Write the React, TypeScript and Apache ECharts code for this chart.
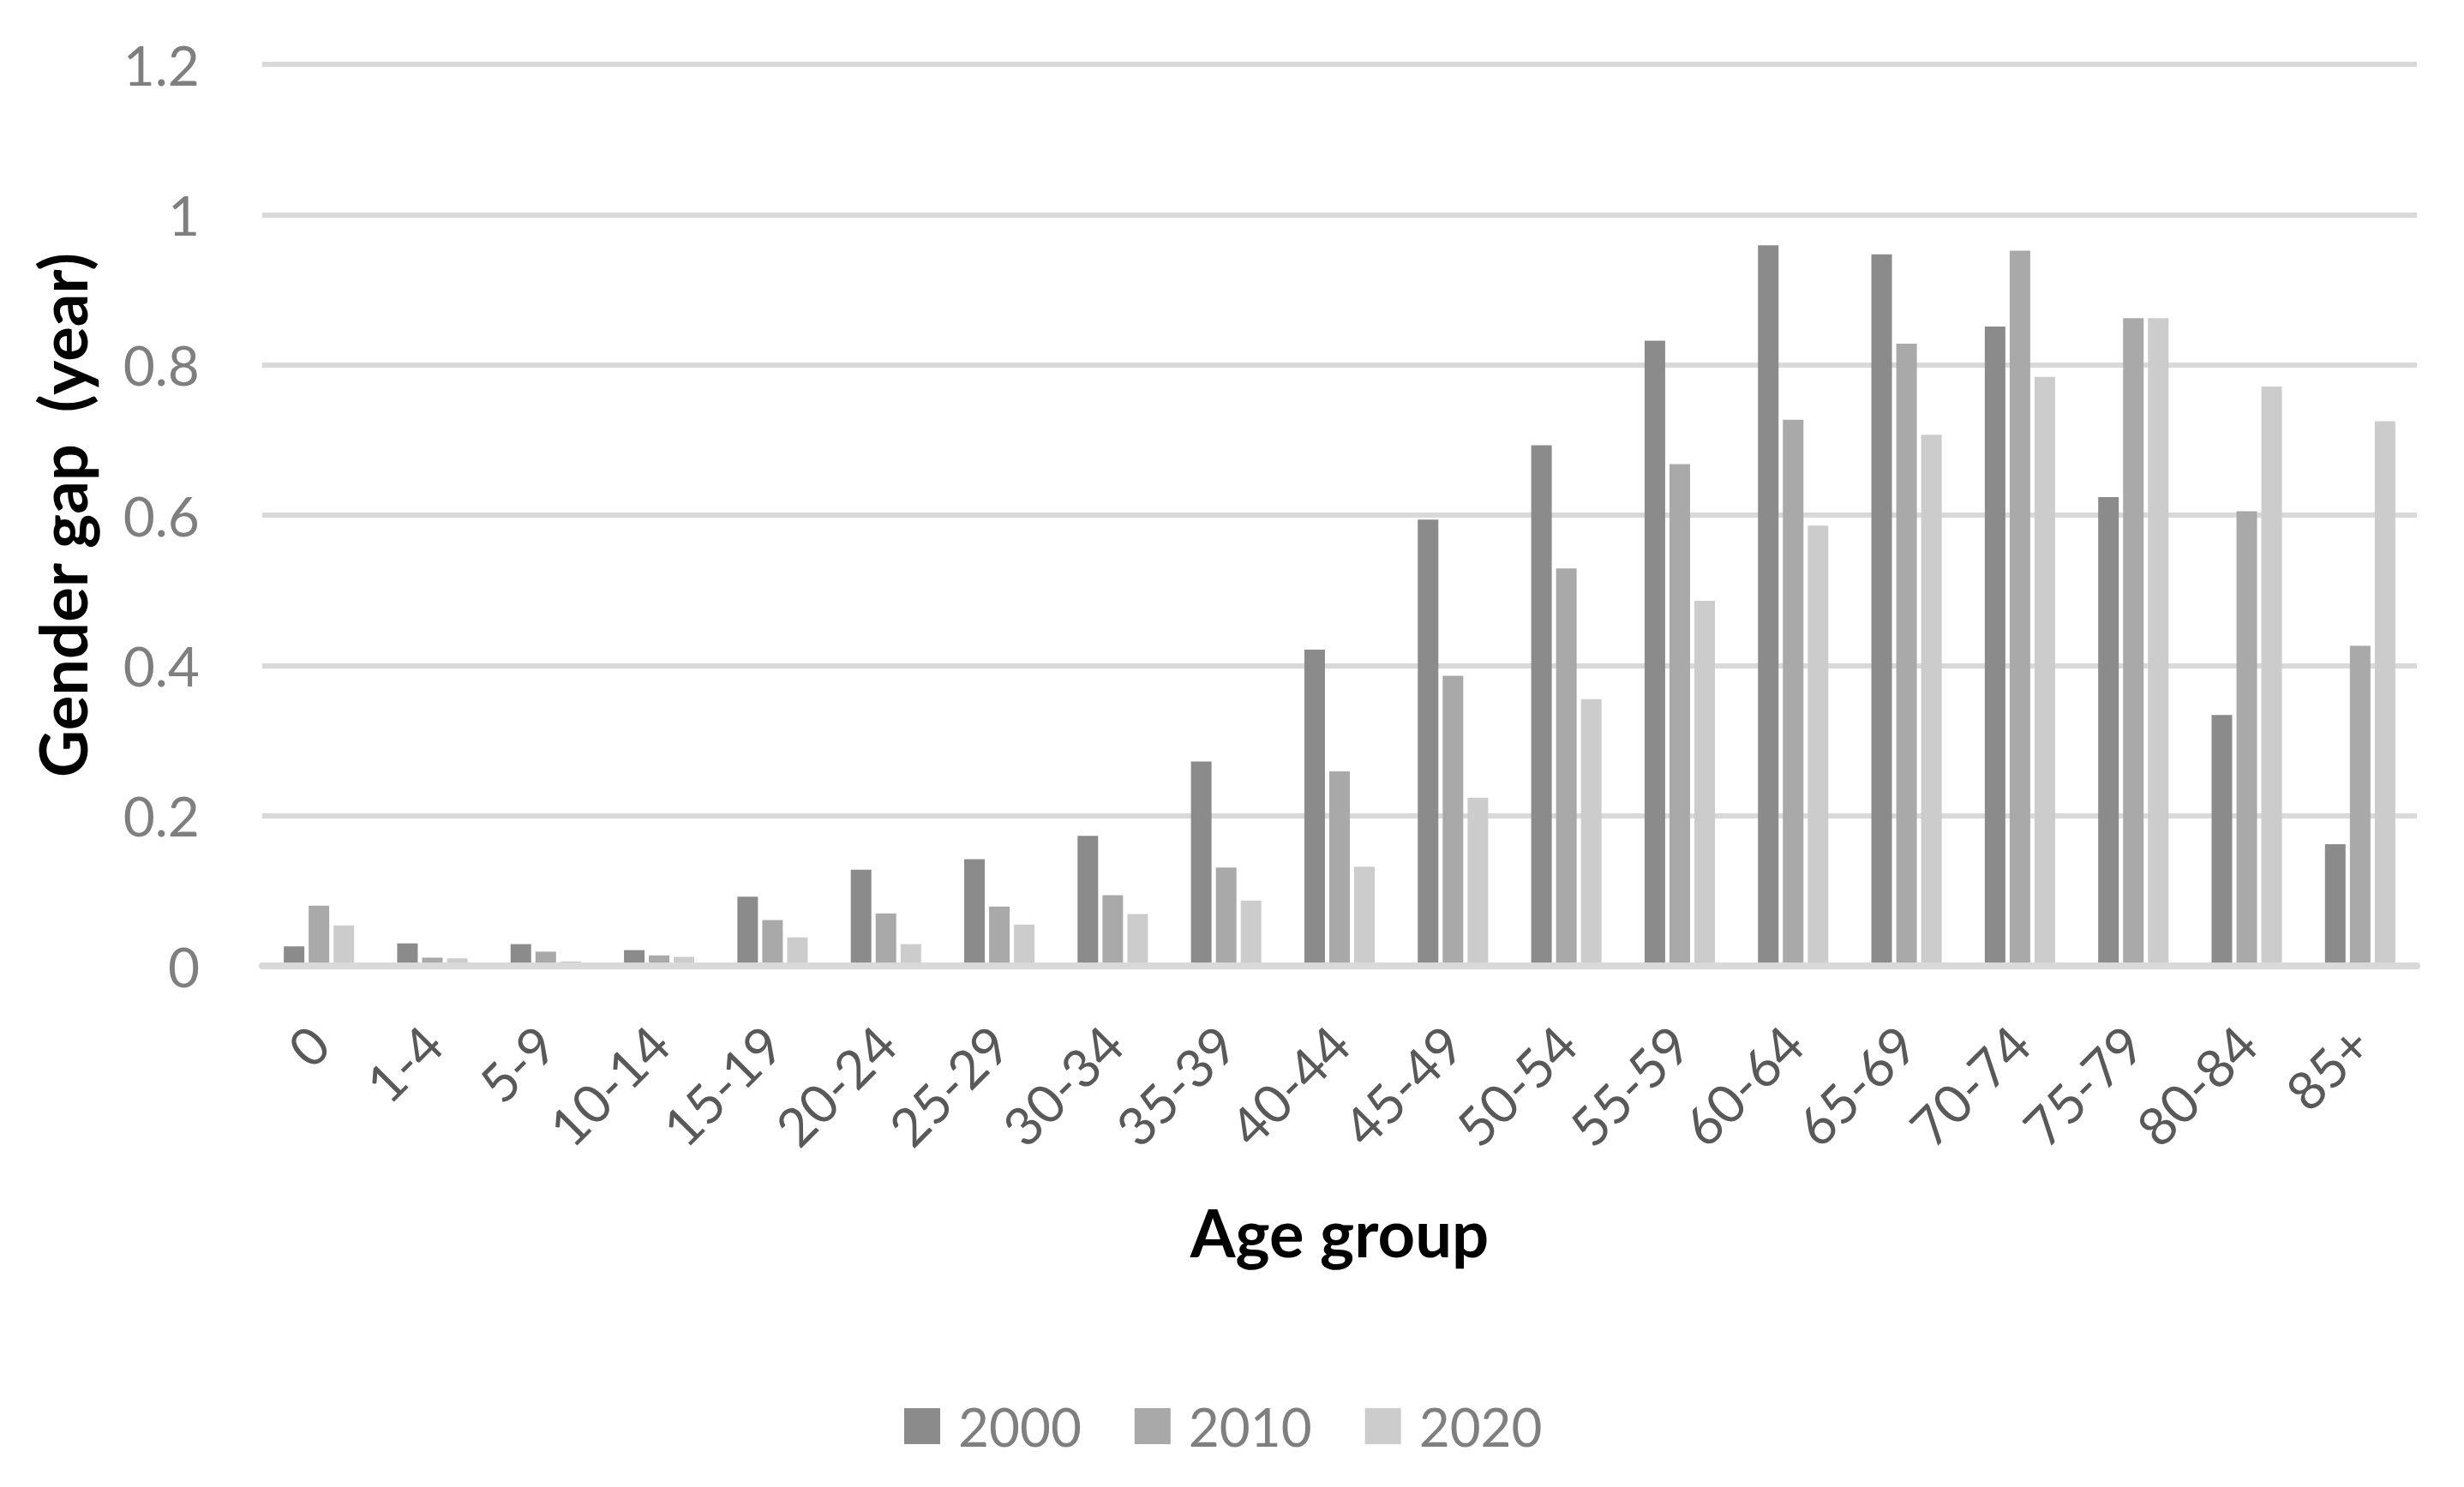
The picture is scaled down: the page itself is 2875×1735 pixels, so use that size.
import * as echarts from 'echarts';
import { useEffect, useRef } from 'react';

const categories = ['0', '1-4', '5-9', '10-14', '15-19', '20-24', '25-29', '30-34', '35-39', '40-44', '45-49', '50-54', '55-59', '60-64', '65-69', '70-74', '75-79', '80-84', '85+'];
const years = ['2000', '2010', '2020'];
const gap2000 = [0.026, 0.03, 0.029, 0.021, 0.092, 0.128, 0.142, 0.173, 0.272, 0.421, 0.594, 0.693, 0.832, 0.959, 0.947, 0.851, 0.624, 0.334, 0.162];
const gap2010 = [0.08, 0.011, 0.019, 0.014, 0.061, 0.07, 0.079, 0.094, 0.131, 0.259, 0.386, 0.529, 0.668, 0.727, 0.828, 0.952, 0.862, 0.605, 0.426];
const gap2020 = [0.054, 0.01, 0.006, 0.012, 0.038, 0.029, 0.055, 0.069, 0.087, 0.132, 0.224, 0.355, 0.486, 0.586, 0.707, 0.784, 0.862, 0.771, 0.725];
const colors = ['#8b8b8b', '#a9a9a9', '#cccccc'];

const font = 'Lato';

export default function App() {
  const chartRef = useRef<HTMLDivElement>(null);

  useEffect(() => {
    if (!chartRef.current) return;
    const chart = echarts.init(chartRef.current, null, { renderer: 'svg' });
    const values = [gap2000, gap2010, gap2020];
    chart.setOption({
      animation: false,
      textStyle: { fontFamily: font },
      grid: { left: 306, right: 55, top: 75, bottom: 608 },
      legend: {
        data: years,
        left: 1050,
        top: 1628,
        icon: 'rect',
        itemWidth: 42,
        itemHeight: 42,
        itemGap: 62,
        selectedMode: false,
        textStyle: { fontFamily: font, fontSize: 62, color: '#7f7f7f', padding: [0, 0, 0, 16] },
      },
      xAxis: {
        type: 'category',
        data: categories,
        z: 5,
        name: 'Age group',
        nameLocation: 'middle',
        nameGap: 272,
        nameTextStyle: { fontFamily: font, fontSize: 76, fontWeight: 'bold', color: '#000' },
        axisLine: { lineStyle: { color: '#d9d9d9', width: 8 } },
        axisTick: { show: false },
        axisLabel: {
          rotate: 45,
          margin: 80,
          fontFamily: font,
          fontSize: 62,
          color: '#595959',
        },
      },
      yAxis: {
        type: 'value',
        min: 0,
        max: 1.2,
        interval: 0.2,
        name: 'Gender gap  (year)',
        nameLocation: 'middle',
        nameGap: 196,
        nameTextStyle: { fontFamily: font, fontSize: 76, fontWeight: 'bold', color: '#000' },
        axisLine: { show: false },
        axisTick: { show: false },
        splitLine: { lineStyle: { color: '#d9d9d9', width: 6 } },
        axisLabel: { margin: 73, fontFamily: font, fontSize: 64, color: '#7f7f7f' },
      },
      series: years.map((y, i) => ({
        name: y,
        type: 'bar',
        data: values[i],
        barWidth: 24,
        barGap: '21%',
        itemStyle: { color: colors[i] },
      })),
    });
    return () => {
      chart.dispose();
    };
  }, []);

  return (
    <div
      ref={chartRef}
      style={{ position: 'fixed', left: 0, top: 0, width: 2875, height: 1735, background: '#fff' }}
    ></div>
  );
}
